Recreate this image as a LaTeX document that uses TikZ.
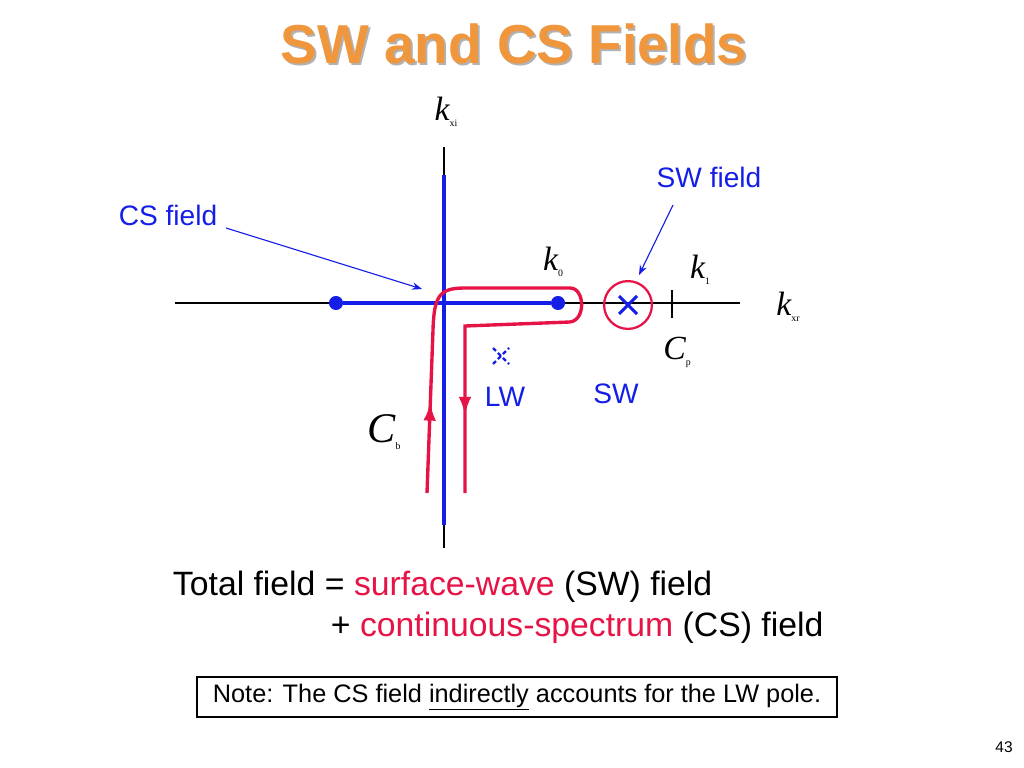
\documentclass[tikz,border=0pt]{standalone}
\usepackage{fontspec}
\setmainfont{Liberation Sans}
\newfontfamily\mathserif{Liberation Serif}
\usetikzlibrary{arrows.meta,decorations.markings}
\definecolor{titleorange}{RGB}{240,150,60}
\definecolor{contourred}{RGB}{230,20,70}
\definecolor{axisblue}{RGB}{20,30,230}
\newcommand\ital[2]{{\mathserif\itshape #1}\raisebox{-0.35ex}{\mathserif\scriptsize #2}}
\tikzset{
  axisline/.style={line width=1.2pt},
  cutline/.style={axisblue, line width=2.4pt},
  contour/.style={contourred, line width=2.4pt},
  pointer/.style={axisblue, thick, -{Stealth[length=7pt]}},
  symlabel/.style={font=\fontsize{24}{26}\selectfont},
  bluelabel/.style={axisblue, font=\fontsize{20}{22}\selectfont},
  pole/.style={circle, fill=axisblue, inner sep=0pt, minimum size=10pt}
}
\begin{document}
\begin{tikzpicture}[x=0.025cm, y=-0.025cm]
\useasboundingbox (0,0) rectangle (1024,768);

% title
\node[font=\fontsize{39}{40}\selectfont\bfseries, text=gray!60] (shadow) at (516,46) {SW and CS Fields};
\node[font=\fontsize{39}{40}\selectfont\bfseries, text=titleorange] (title) at (514,44) {SW and CS Fields};

% axes
\coordinate (xl) at (175,303);
\coordinate (xr) at (740,303);
\coordinate (yt) at (444,147);
\coordinate (yb) at (444,548);
\draw[axisline] (xl) -- (xr);
\draw[axisline] (yt) -- (yb);
\draw[axisline] (672,290) -- (672,318);

% branch cuts
\node[pole] (bl) at (336,303) {};
\node[pole] (k0pt) at (558,303) {};
\draw[cutline] (bl) -- (k0pt);
\draw[cutline] (444,175) -- (444,525);

% contour
\draw[contour, postaction={decorate}, decoration={markings,
  mark=at position 0.14 with {\arrow{Latex[length=13pt,width=9pt]}},
  mark=at position 0.88 with {\arrow{Latex[length=13pt,width=9pt]}}}]
  (427,493) -- (433,330) .. controls (434,295) and (440,288) .. (465,288)
  -- (570,288) .. controls (585,288) and (586,320) .. (570,322)
  -- (465,326) -- (465,493);

% poles
\node[draw=contourred, line width=1.6pt, circle, minimum size=34pt, inner sep=0pt] (swpole) at (628,305) {};
\draw[axisblue, line width=2.2pt] (619,296) -- (637,314) (619,314) -- (637,296);
\node[inner sep=0pt] (lwpole) at (501,356) {};
\draw[axisblue, line width=1.6pt, dash pattern=on 3pt off 2pt]
  (493,348) -- (509,364) (493,364) -- (509,348);

% labels
\node[symlabel] (kxi) at (446,112) {\ital{k}{xi}};
\node[symlabel] (k0) at (553,262) {\ital{k}{\upshape 0}};
\node[symlabel] (k1) at (700,270) {\ital{k}{\upshape 1}};
\node[symlabel] (kxr) at (788,307) {\ital{k}{xr}};
\node[symlabel] (cp) at (677,352) {\ital{C}{p}};
\node[font=\fontsize{30}{32}\selectfont] (cb) at (384,432) {\ital{C}{b}};
\node[bluelabel] (lw) at (505,397) {LW};
\node[bluelabel] (sw) at (616,394) {SW};
\node[bluelabel] (swfield) at (709,177) {SW field};
\node[bluelabel] (csfield) at (168,215) {CS field};
\coordinate (cstip) at (422,289);
\coordinate (swtip) at (639,275);
\draw[pointer] (226,228) -- (cstip);
\draw[pointer] (673,205) -- (swtip);

% bottom text
\node[anchor=west, font=\fontsize{24}{26}\selectfont] (total) at (168,587)
  {Total field = \textcolor{contourred}{surface-wave} (SW) field};
\node[anchor=west, font=\fontsize{24}{26}\selectfont] (cont) at (326,628)
  {+ \textcolor{contourred}{continuous-spectrum} (CS) field};
\node[draw, thick, minimum width=640*0.025cm, minimum height=40*0.025cm, font=\fontsize{18}{20}\selectfont] (note) at (517,697)
  {Note: The CS field \underline{indirectly} accounts for the LW pole.};
\node[font=\fontsize{11}{12}\selectfont] (page) at (1004,747) {43};
\end{tikzpicture}
\end{document}
